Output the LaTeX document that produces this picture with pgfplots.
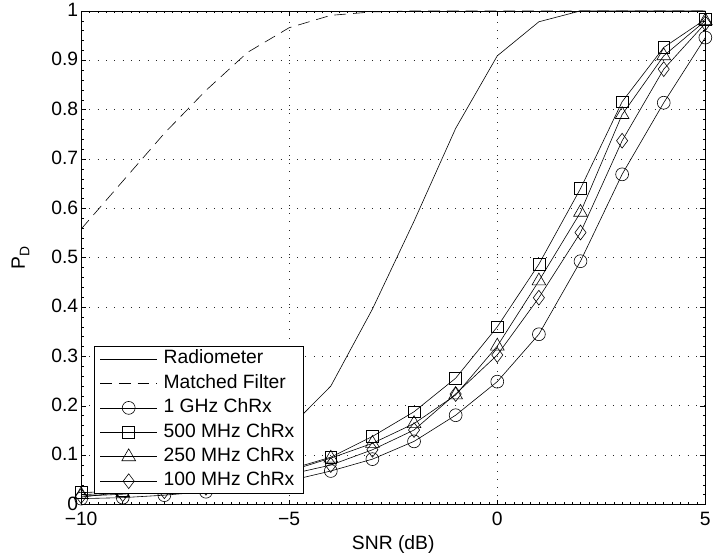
\documentclass[border=0pt]{standalone}
\usepackage{fontspec}
\setmainfont{Liberation Sans}
\usepackage{pgfplots}
\pgfplotsset{compat=1.18}
\newcommand{\ff}{\fontsize{19.5bp}{23bp}\selectfont}
\begin{document}
\begin{tikzpicture}
\begin{axis}[
  scale only axis, width=631bp, height=499bp,
  xmin=-10, xmax=5, ymin=0, ymax=1,
  xtick={-10,-5,0,5}, xticklabels={−10,−5,0,5},
  ytick={0,0.1,0.2,0.3,0.4,0.5,0.6,0.7,0.8,0.9,1},
  yticklabels={0,0.1,0.2,0.3,0.4,0.5,0.6,0.7,0.8,0.9,1},
  minor x tick num=24, minor y tick num=4,
  tick align=inside,
  major tick length=5bp, minor tick length=2.5bp,
  tick style={black, line width=0.5bp},
  grid=major,
  major grid style={black!85, line width=0.7bp, dash pattern=on 0.8bp off 7.6bp},
  axis line style={line width=0.6bp},
  tick label style={font=\ff},
  xticklabel style={yshift=-4bp},
  yticklabel style={xshift=0.5bp, yshift=1bp},
  xlabel={SNR (dB)}, ylabel={P\raisebox{-0.45ex}{\fontsize{14bp}{14bp}\selectfont D}},
  label style={font=\ff},
  xlabel style={at={(axis description cs:0.5,-0.08)}, anchor=center},
  ylabel style={at={(axis description cs:-0.097,0.5)}, anchor=center},
  legend cell align=left,
  legend style={at={(axis description cs:0.0206,0.022)}, anchor=south west,
    font=\ff, draw=black, line width=0.6bp, fill=white,
    inner xsep=5.5bp, inner ysep=0bp, column sep=3bp,
    nodes={inner xsep=3bp, inner ysep=3.1bp, text height=14bp, text depth=4.5bp}},
  legend image code/.code={\draw[mark repeat=2,mark phase=2] plot coordinates {(0bp,0bp) (29bp,0bp) (58bp,0bp)};},
  every axis plot/.append style={black, line width=0.6bp},
]
\addplot[no marks] coordinates {
(-10,0.015) (-9,0.025) (-8,0.04) (-7,0.065) (-6,0.1) (-5,0.155) (-4,0.240)
(-3,0.396) (-2,0.574) (-1,0.762) (0,0.909) (1,0.978) (2,1.0) (3,1.0) (4,1.0) (5,1.0)};
\addlegendentry{Radiometer}
\addplot[no marks, dash pattern=on 12bp off 7bp] coordinates {
(-10,0.558) (-9,0.655) (-8,0.752) (-7,0.839) (-6,0.916) (-5,0.966) (-4,0.991)
(-3,0.998) (-2,1.0) (-1,1.0) (0,1.0) (1,1.0) (2,1.0) (3,1.0) (4,1.0) (5,1.0)};
\addlegendentry{Matched Filter}
\addplot[mark=o, mark size=6.5bp, mark options={solid}] coordinates {
(-10,0.012) (-9,0.014) (-8,0.019) (-7,0.026) (-6,0.035) (-5,0.048) (-4,0.068)
(-3,0.092) (-2,0.128) (-1,0.181) (0,0.249) (1,0.345) (2,0.493) (3,0.669) (4,0.814) (5,0.946)};
\addlegendentry{1 GHz ChRx}
\addplot[mark=square, mark size=6bp, mark options={solid}] coordinates {
(-10,0.024) (-9,0.028) (-8,0.034) (-7,0.042) (-6,0.054) (-5,0.071) (-4,0.096)
(-3,0.138) (-2,0.188) (-1,0.256) (0,0.360) (1,0.487) (2,0.640) (3,0.816) (4,0.926) (5,0.983)};
\addlegendentry{500 MHz ChRx}
\addplot[mark=triangle, mark size=8bp, mark options={solid}] coordinates {
(-10,0.020) (-9,0.024) (-8,0.030) (-7,0.038) (-6,0.050) (-5,0.068) (-4,0.094)
(-3,0.124) (-2,0.164) (-1,0.222) (0,0.321) (1,0.453) (2,0.592) (3,0.790) (4,0.909) (5,0.980)};
\addlegendentry{250 MHz ChRx}
\addplot[mark=diamond, mark size=7.5bp, mark options={solid}] coordinates {
(-10,0.017) (-9,0.021) (-8,0.027) (-7,0.034) (-6,0.045) (-5,0.061) (-4,0.080)
(-3,0.111) (-2,0.151) (-1,0.224) (0,0.303) (1,0.419) (2,0.551) (3,0.737) (4,0.882) (5,0.975)};
\addlegendentry{100 MHz ChRx}
\end{axis}
\useasboundingbox ([xshift=-82bp,yshift=-56bp]current axis.south west) rectangle ([xshift=1bp,yshift=8bp]current axis.north east);
\end{tikzpicture}
\end{document}
